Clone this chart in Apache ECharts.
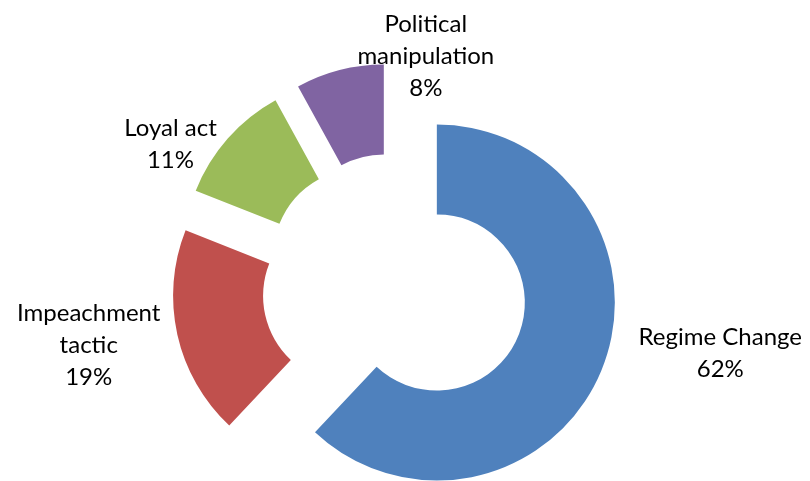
<!DOCTYPE html>
<html>
<head>
<meta charset="utf-8">
<script src="https://cdn.jsdelivr.net/npm/echarts@6/dist/echarts.min.js"></script>
<style>
html,body{margin:0;padding:0;background:#fff;}
#chart{width:810px;height:481px;}
</style>
</head>
<body>
<div id="chart"></div>
<script>
const categories = ['Regime Change', 'Impeachment tactic', 'Loyal act', 'Political manipulation'];
const values = [62, 19, 11, 8];
const labelLines = ['Regime Change', 'Impeachment\ntactic', 'Loyal act', 'Political\nmanipulation'];
const colors = ['#4F81BD', '#C0504D', '#9BBB59', '#8064A2'];
const labelShift = [[69, -20], [-39, 7], [-11, 16], [125, 1]];

const chart = echarts.init(document.getElementById('chart'), null, {renderer: 'canvas'});
chart.setOption({
  animation: false,
  backgroundColor: '#ffffff',
  series: [{
    type: 'pie',
    center: [395, 286],
    radius: [88, 178],
    startAngle: 90,
    clockwise: true,
    selectedMode: 'multiple',
    selectedOffset: 45,
    avoidLabelOverlap: false,
    label: {
      show: true,
      position: 'outside',
      fontFamily: 'Lato',
      fontSize: 24,
      lineHeight: 32,
      color: '#000',
      align: 'center',
      formatter: p => labelLines[p.dataIndex] + '\n' + p.percent.toFixed(0) + '%'
    },
    labelLine: {show: false},
    labelLayout: p => {
      const s = labelShift[p.dataIndex];
      return {dx: s[0], dy: s[1], align: 'center', verticalAlign: 'middle'};
    },
    emphasis: {disabled: true},
    itemStyle: {borderWidth: 0},
    data: categories.map((c, i) => ({
      name: c,
      value: values[i],
      selected: true,
      itemStyle: {color: colors[i]}
    }))
  }]
});
</script>
</body>
</html>
